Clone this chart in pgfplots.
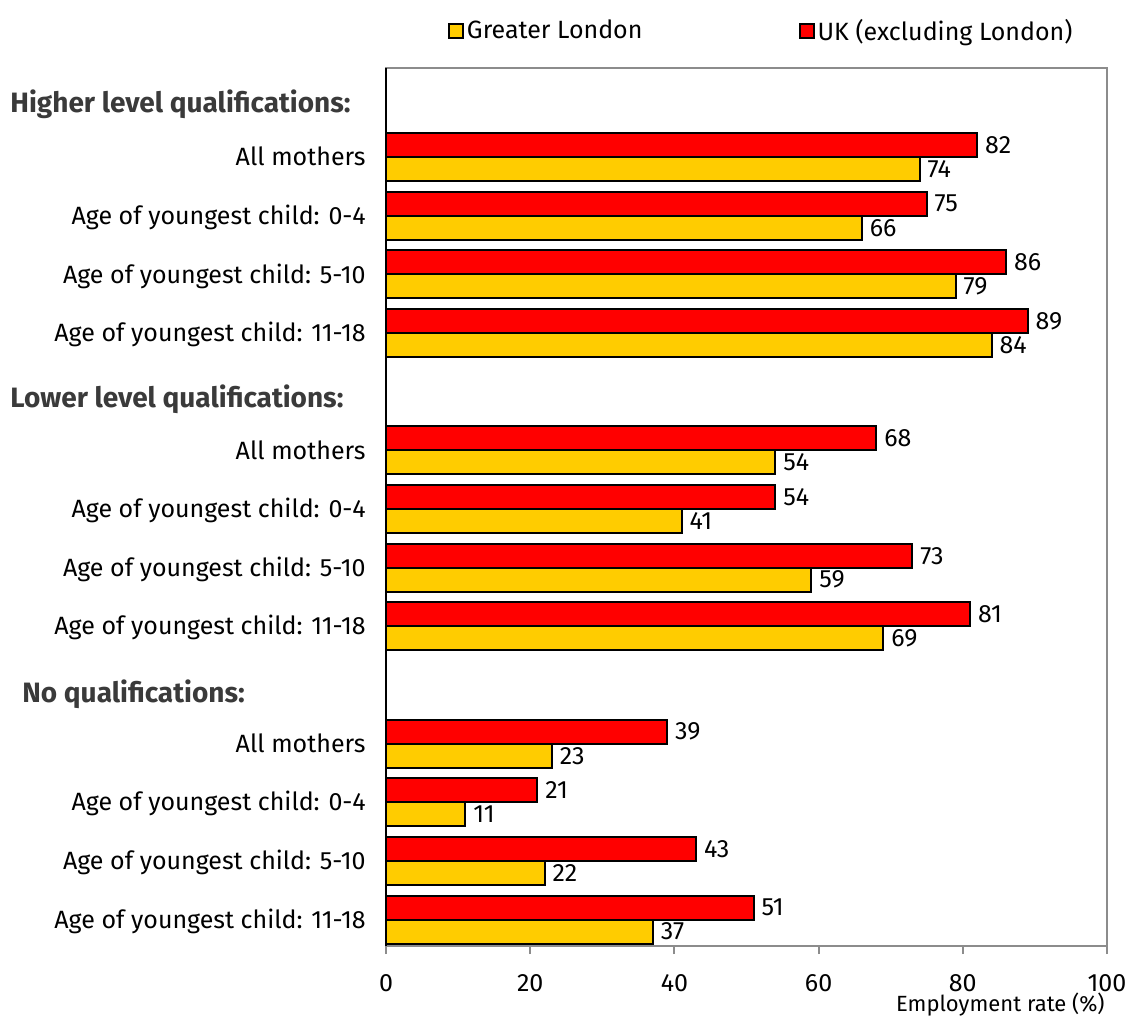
\documentclass[border=0pt]{standalone}
\usepackage{pgfplots}
\pgfplotsset{compat=1.18}
\usepackage{pgfplotstable}
\usepackage{fontspec}
\setmainfont{Fira Sans}
\usetikzlibrary{calc}

\definecolor{glyellow}{HTML}{FFCC00}
\definecolor{ukred}{HTML}{FF0000}
\definecolor{framegray}{HTML}{8C8C8C}
\definecolor{headgray}{HTML}{3A3A3A}

\newcommand{\chartfont}{\fontsize{12.5}{15}\selectfont}
\newcommand{\headfont}{\fontsize{14}{16.5}\selectfont\bfseries}

% Employment rate of mothers (%), by qualification and age of youngest child.
% pos = row in the chart (rows 0, 5 and 10 hold the group headings)
\pgfplotstableread{
pos value
1  74
2  66
3  79
4  84
6  54
7  41
8  59
9  69
11 23
12 11
13 22
14 37
}\london

\pgfplotstableread{
pos value
1  82
2  75
3  86
4  89
6  68
7  54
8  73
9  81
11 39
12 21
13 43
14 51
}\ukexlondon

\begin{document}
\begin{tikzpicture}[font=\chartfont]
\begin{axis}[
  name=ax,
  scale only axis,
  width=360.5pt, height=439pt,
  xmin=0, xmax=100,
  ymin=-0.52, ymax=14.45,
  y dir=reverse,
  xbar,
  bar width=0.41,
  /pgf/number format/assume math mode=true,
  axis line style={draw=framegray, line width=1pt},
  xtick={0,20,...,100},
  xtick pos=bottom,
  xtick align=outside,
  major tick length=4pt,
  xtick style={draw=framegray, line width=1pt},
  xticklabel style={inner sep=0pt, anchor=north, yshift=-10pt},
  ytick={1,2,3,4,6,7,8,9,11,12,13,14},
  yticklabels={All mothers, Age of youngest child: 0-4, Age of youngest child: 5-10, Age of youngest child: 11-18,
               All mothers, Age of youngest child: 0-4, Age of youngest child: 5-10, Age of youngest child: 11-18,
               All mothers, Age of youngest child: 0-4, Age of youngest child: 5-10, Age of youngest child: 11-18},
  ytick style={draw=none},
  yticklabel style={inner sep=0pt, anchor=east, text height=8.6pt, text depth=0pt, xshift=-6pt},
  point meta=x,
  nodes near coords,
  every node near coord/.append style={font=\chartfont, text=black, inner sep=0pt, xshift=3.5pt, anchor=west},
  legend columns=2,
  legend style={
    at={(axis description cs:0,1)}, anchor=west,
    xshift=31pt, yshift=18.5pt,
    draw=none, fill=none, inner sep=0pt,
    font=\chartfont,
    nodes={inner xsep=1.3pt, inner ysep=2pt},
    /tikz/every even column/.append style={column sep=77pt},
  },
  clip=false,
]
\addplot[fill=glyellow, draw=black, line width=1pt, bar shift=0.205,
  legend image code/.code={\draw[fill=glyellow, draw=black, line width=1pt] (0pt,-3.5pt) rectangle (7pt,3.5pt);}]
  table[x=value, y=pos] {\london};
\addlegendentry{Greater London}
\addplot[fill=ukred, draw=black, line width=1pt, bar shift=-0.205,
  legend image code/.code={\draw[fill=ukred, draw=black, line width=1pt] (0pt,-3.5pt) rectangle (7pt,3.5pt);}]
  table[x=value, y=pos] {\ukexlondon};
\addlegendentry{UK (excluding London)}

% left axis line in black
\draw[black, line width=1pt] (axis cs:0,-0.52) -- (axis cs:0,14.45);

% group headings
\node[anchor=base west, inner sep=0pt, text=headgray, font=\headfont]
  at ([xshift=-188pt] axis cs:0,0.233) {Higher level qualifications:};
\node[anchor=base west, inner sep=0pt, text=headgray, font=\headfont]
  at ([xshift=-188pt] axis cs:0,5.26) {Lower level qualifications:};
\node[anchor=base west, inner sep=0pt, text=headgray, font=\headfont]
  at ([xshift=-182pt] axis cs:0,10.30) {No qualifications:};
\end{axis}

% axis title below the tick labels, flush right
\node[anchor=base east, inner sep=0pt, font=\fontsize{11}{13}\selectfont]
  at ($(ax.south east)+(-1pt,-33pt)$) {Employment rate (\%)};

\pgfresetboundingbox
\path[use as bounding box] ($(ax.south west)+(-193pt,-35.5pt)$) rectangle ($(ax.north east)+(9.5pt,34pt)$);
\end{tikzpicture}
\end{document}
